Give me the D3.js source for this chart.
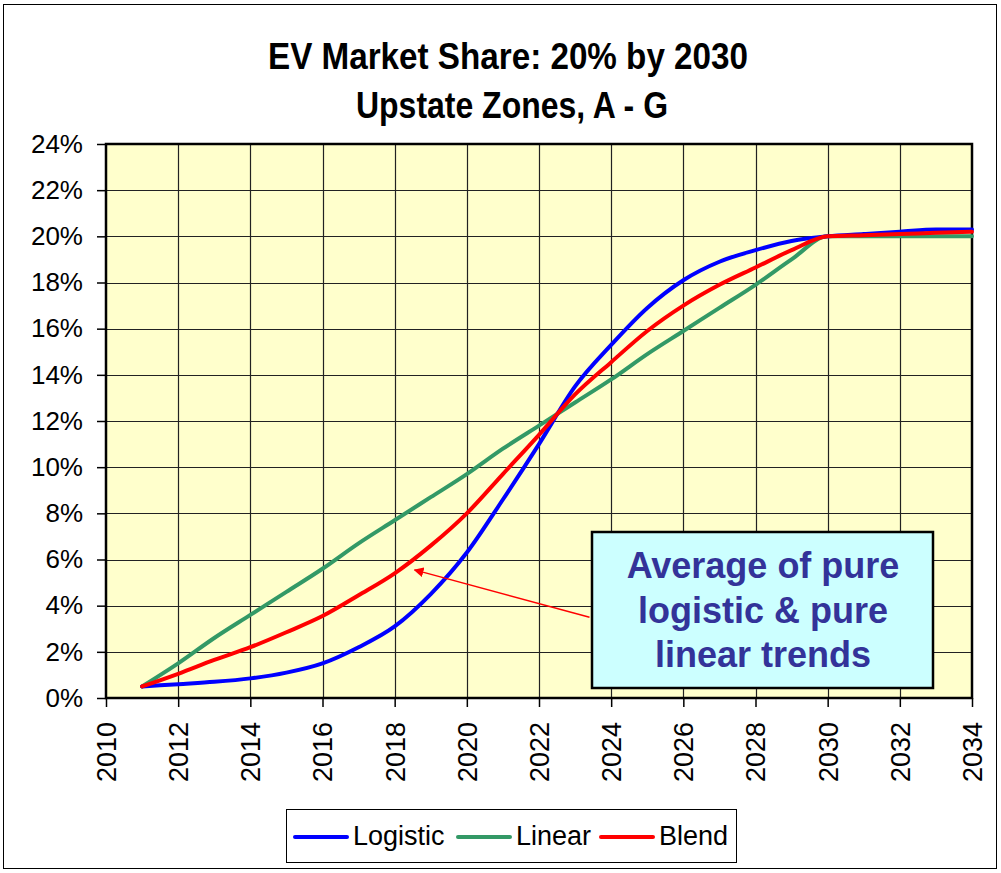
<!DOCTYPE html>
<html>
<head>
<meta charset="utf-8">
<script src="https://cdn.jsdelivr.net/npm/d3@7"></script>
<style>
  body { margin: 0; background: #fff; }
  svg { display: block; font-family: "Liberation Sans", Arial, sans-serif; }
</style>
</head>
<body>
<div id="chart"></div>
<script>
// years and the three trends (% share)
const years = d3.range(2011, 2035);
const logistic = [0.5, 0.6, 0.7, 0.85, 1.1, 1.5, 2.2, 3.1, 4.5, 6.3, 8.6, 11.0, 13.5, 15.3, 16.9, 18.1, 18.9, 19.4, 19.8, 20.0, 20.1, 20.2, 20.3, 20.3];
const linear = [0.5, 1.5, 2.6, 3.6, 4.6, 5.6, 6.7, 7.7, 8.7, 9.7, 10.8, 11.8, 12.8, 13.8, 14.9, 15.9, 16.9, 17.9, 19.0, 20.0, 20.0, 20.0, 20.0, 20.0];
const blend = [0.5, 1.05, 1.65, 2.2, 2.85, 3.55, 4.45, 5.4, 6.6, 8.0, 9.7, 11.4, 13.15, 14.55, 15.9, 17.0, 17.9, 18.65, 19.4, 20.0, 20.05, 20.1, 20.15, 20.2];

const seriesNames = ["Logistic", "Linear", "Blend"];
const seriesColors = ["#0000ff", "#339966", "#ff0000"];
const seriesValues = [logistic, linear, blend];

const xTicks = d3.range(2010, 2035, 2);
const yTicks = d3.range(0, 25, 2);

const WIDTH = 1001, HEIGHT = 873;
const margin = { top: 144, left: 106, right: 29, bottom: 175 };
const width = WIDTH - margin.left - margin.right,
  height = HEIGHT - margin.top - margin.bottom;

const svg = d3.select("#chart").append("svg")
  .attr("width", WIDTH)
  .attr("height", HEIGHT);

// outer frame
svg.append("rect")
  .attr("x", 3.5).attr("y", 4.5)
  .attr("width", 993).attr("height", 864)
  .attr("fill", "#fff")
  .attr("stroke", "#000")
  .attr("stroke-width", 1);

// titles (narrow bold look: squeeze a tall font into the width)
svg.append("text")
  .attr("x", 268).attr("y", 69)
  .attr("font-weight", "bold")
  .attr("font-size", 36)
  .attr("textLength", 480)
  .attr("lengthAdjust", "spacingAndGlyphs")
  .text("EV Market Share: 20% by 2030");

svg.append("text")
  .attr("x", 356).attr("y", 118)
  .attr("font-weight", "bold")
  .attr("font-size", 36)
  .attr("textLength", 312)
  .attr("lengthAdjust", "spacingAndGlyphs")
  .text("Upstate Zones, A - G");

const g = svg.append("g")
  .attr("transform", `translate(${margin.left}, ${margin.top})`);

const x = d3.scaleLinear().domain([2010, 2034]).range([0, width]);
const y = d3.scaleLinear().domain([0, 24]).range([height, 0]);

g.append("rect")
  .attr("width", width).attr("height", height)
  .attr("fill", "#ffffcc");

// gridlines
g.append("g")
  .selectAll("line")
  .data(xTicks.slice(1, -1))
  .join("line")
  .attr("x1", d => Math.round(x(d)) + 0.5).attr("x2", d => Math.round(x(d)) + 0.5)
  .attr("y1", 0).attr("y2", height)
  .attr("stroke", "#222")
  .attr("stroke-width", 1.2);

g.append("g")
  .selectAll("line")
  .data(yTicks.slice(1, -1))
  .join("line")
  .attr("y1", d => Math.round(y(d)) + 0.5).attr("y2", d => Math.round(y(d)) + 0.5)
  .attr("x1", 0).attr("x2", width)
  .attr("stroke", "#222")
  .attr("stroke-width", 1.2);

// axes
const yAxis = g.append("g")
  .call(d3.axisLeft(y).tickValues(yTicks).tickFormat(d => d + "%").tickSize(9).tickPadding(14));
yAxis.select(".domain").remove();
yAxis.selectAll("line").attr("stroke", "#000").attr("stroke-width", 1.5);
yAxis.selectAll("text")
  .attr("font-size", 26)
  .attr("fill", "#000")
  .attr("font-family", "'Liberation Sans', Arial, sans-serif");

const xAxis = g.append("g")
  .attr("transform", `translate(0, ${height})`)
  .call(d3.axisBottom(x).tickValues(xTicks).tickFormat(d3.format("d")).tickSize(9).tickPadding(6));
xAxis.select(".domain").remove();
xAxis.selectAll("line").attr("stroke", "#000").attr("stroke-width", 1.5);
xAxis.selectAll("text")
  .attr("font-size", 27)
  .attr("fill", "#000")
  .attr("font-family", "'Liberation Sans', Arial, sans-serif")
  .attr("transform", "rotate(-90)")
  .attr("text-anchor", "end")
  .attr("x", -24)
  .attr("y", 0)
  .attr("dy", "0.35em");

// plot border
g.append("rect")
  .attr("width", width).attr("height", height)
  .attr("fill", "none")
  .attr("stroke", "#000")
  .attr("stroke-width", 2.5);

// series
const line = d3.line()
  .x((d, i) => x(years[i]))
  .y(d => y(d))
  .curve(d3.curveMonotoneX);

const order = [1, 0, 2]; // draw green under blue, red on top
order.forEach(k => {
  g.append("path")
    .datum(seriesValues[k])
    .attr("d", line)
    .attr("fill", "none")
    .attr("stroke", seriesColors[k])
    .attr("stroke-width", 4)
    .attr("stroke-linejoin", "round")
    .attr("stroke-linecap", "round");
});

// annotation arrow
const defs = svg.append("defs");
defs.append("marker")
  .attr("id", "arrow")
  .attr("viewBox", "0 0 10 10")
  .attr("refX", 9).attr("refY", 5)
  .attr("markerWidth", 10).attr("markerHeight", 10)
  .attr("markerUnits", "userSpaceOnUse")
  .attr("orient", "auto")
  .append("path")
  .attr("d", "M0,0 L10,5 L0,10 z")
  .attr("fill", "#ff0000");

g.append("line")
  .attr("x1", x(2023.4)).attr("y1", y(3.5))
  .attr("x2", x(2018.55)).attr("y2", y(5.55))
  .attr("stroke", "#ff0000")
  .attr("stroke-width", 1.5)
  .attr("marker-end", "url(#arrow)");

// annotation box
const note = svg.append("g");
note.append("rect")
  .attr("x", 592).attr("y", 532)
  .attr("width", 341).attr("height", 156)
  .attr("fill", "#ccffff")
  .attr("stroke", "#000")
  .attr("stroke-width", 2.5);

const noteLines = ["Average of pure", "logistic & pure", "linear trends"];
noteLines.forEach((t, i) => {
  note.append("text")
    .attr("x", 763).attr("y", 578 + i * 44.5)
    .attr("text-anchor", "middle")
    .attr("font-weight", "bold")
    .attr("font-size", 36)
    .attr("fill", "#333399")
    .text(t);
});

// legend
const legend = svg.append("g");
legend.append("rect")
  .attr("x", 286.5).attr("y", 809.5)
  .attr("width", 450).attr("height", 53)
  .attr("fill", "#fff")
  .attr("stroke", "#000")
  .attr("stroke-width", 1);

const legendX = [295, 458, 601];
seriesNames.forEach((name, i) => {
  legend.append("line")
    .attr("x1", legendX[i]).attr("x2", legendX[i] + 52)
    .attr("y1", 837).attr("y2", 837)
    .attr("stroke", seriesColors[i])
    .attr("stroke-width", 4)
    .attr("stroke-linecap", "round");
  legend.append("text")
    .attr("x", legendX[i] + 58).attr("y", 845)
    .attr("font-size", 27)
    .text(name);
});
</script>
</body>
</html>
